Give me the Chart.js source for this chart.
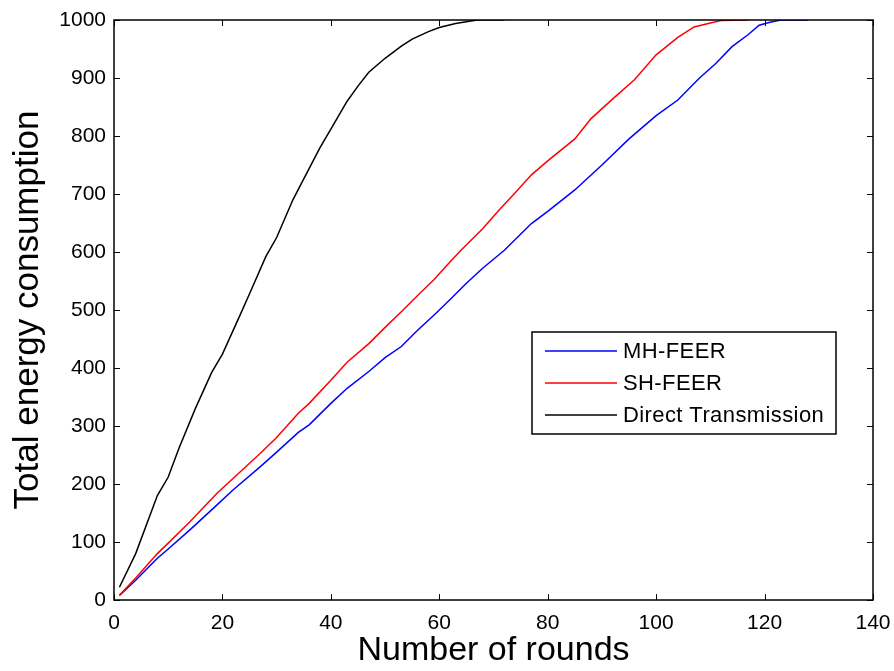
<!DOCTYPE html>
<html>
<head>
<meta charset="utf-8">
<script src="https://cdn.jsdelivr.net/npm/chart.js@4.4.1/dist/chart.umd.min.js"></script>
<style>
  body { margin: 0; background: #fff; }
  #contenedor { width: 894px; height: 671px; position: relative; }
</style>
</head>
<body>
<div id="contenedor"><canvas id="canvasEnergia"></canvas></div>
<script>
// valores (ronda -> energia total consumida)
const roundsMH = [1, 4, 8, 10, 14, 19, 22, 27, 30, 34, 36, 40, 43, 47, 50, 53, 56, 59, 62, 65, 68, 72, 77, 80, 85, 90, 95, 100, 104, 108, 111, 114, 117, 119, 121, 123, 128];
const energyMH = [8, 34, 72, 88, 121, 164, 190, 230, 255, 289, 302, 339, 365, 394, 418, 437, 465, 491, 518, 546, 572, 603, 649, 670, 707, 750, 795, 835, 862, 900, 925, 954, 975, 991, 996, 1000, 1000];

const roundsSH = [1, 4, 8, 10, 14, 19, 22, 27, 30, 34, 36, 40, 43, 47, 50, 53, 56, 59, 62, 64, 68, 71, 74, 77, 80, 85, 88, 92, 96, 100, 104, 107, 110, 112, 117];
const energySH = [8, 38, 80, 98, 135, 184, 210, 253, 280, 322, 339, 379, 410, 442, 470, 497, 525, 552, 583, 603, 640, 672, 702, 733, 757, 795, 830, 864, 897, 940, 970, 988, 995, 999, 1000];

const roundsDT = [1, 4, 8, 10, 12, 15, 18, 20, 23, 25, 28, 30, 33, 35, 38, 40, 43, 45, 47, 50, 53, 55, 58, 60, 63, 65, 67, 72];
const energyDT = [22, 80, 180, 212, 262, 330, 392, 424, 486, 528, 592, 625, 690, 726, 780, 812, 860, 886, 910, 934, 955, 967, 980, 987, 994, 997, 1000, 1000];

const seriesLabels = ['MH-FEER', 'SH-FEER', 'Direct Transmission'];
const seriesColors = ['#0000ff', '#ff0000', '#000000'];

const fuente = "'Liberation Sans', Arial, Helvetica, sans-serif";

function toPoints(xs, ys) {
    return xs.map((r, i) => ({ x: r, y: ys[i] }));
}

// marco cerrado y ticks hacia dentro, estilo MATLAB
const marcoPlugin = {
    id: 'marco',
    afterDatasetsDraw(chart) {
        const { ctx, chartArea: a, scales: { x, y } } = chart;
        const len = 6;
        ctx.save();
        ctx.strokeStyle = '#000';
        ctx.lineWidth = 1;
        ctx.beginPath();
        x.ticks.forEach(t => {
            const px = Math.round(x.getPixelForValue(t.value)) + 0.5;
            ctx.moveTo(px, a.bottom); ctx.lineTo(px, a.bottom - len);
            ctx.moveTo(px, a.top); ctx.lineTo(px, a.top + len);
        });
        y.ticks.forEach(t => {
            const py = Math.round(y.getPixelForValue(t.value)) + 0.5;
            ctx.moveTo(a.left, py); ctx.lineTo(a.left + len, py);
            ctx.moveTo(a.right, py); ctx.lineTo(a.right - len, py);
        });
        ctx.stroke();
        ctx.lineWidth = 1.5;
        ctx.strokeRect(a.left, a.top, a.right - a.left, a.bottom - a.top);
        ctx.restore();
    }
};

// leyenda dentro del area del grafico
const leyendaPlugin = {
    id: 'leyendaInterna',
    afterDraw(chart) {
        const { ctx, chartArea: a } = chart;
        const bx = a.left + 418, by = a.top + 312, bw = 304, bh = 102;
        ctx.save();
        ctx.fillStyle = '#fff';
        ctx.fillRect(bx, by, bw, bh);
        ctx.strokeStyle = '#000';
        ctx.lineWidth = 1.5;
        ctx.strokeRect(bx, by, bw, bh);
        ctx.font = '22px ' + fuente;
        ctx.letterSpacing = '0.4px';
        ctx.textBaseline = 'middle';
        chart.data.datasets.forEach((ds, i) => {
            const ry = by + 19 + i * 32;
            ctx.strokeStyle = ds.borderColor;
            ctx.lineWidth = 1.5;
            ctx.beginPath();
            ctx.moveTo(bx + 13, ry);
            ctx.lineTo(bx + 85, ry);
            ctx.stroke();
            ctx.fillStyle = '#000';
            ctx.fillText(ds.label, bx + 91, ry + 1);
        });
        ctx.restore();
    }
};

const datasets = [
    { label: seriesLabels[0], data: toPoints(roundsMH, energyMH), borderColor: seriesColors[0], order: 2 },
    { label: seriesLabels[1], data: toPoints(roundsSH, energySH), borderColor: seriesColors[1], order: 1 },
    { label: seriesLabels[2], data: toPoints(roundsDT, energyDT), borderColor: seriesColors[2], order: 0 }
].map(d => Object.assign(d, { borderWidth: 1.5, pointRadius: 0, fill: false, tension: 0 }));

new Chart(document.getElementById('canvasEnergia').getContext('2d'), {
    type: 'line',
    data: { datasets: datasets },
    plugins: [marcoPlugin, leyendaPlugin],
    options: {
        responsive: true,
        maintainAspectRatio: false,
        animation: false,
        layout: { padding: { top: 20, right: 21, left: 0, bottom: 0 } },
        plugins: { legend: { display: false }, tooltip: { enabled: false } },
        scales: {
            x: {
                type: 'linear',
                min: 0,
                max: 140,
                grid: { display: false, drawTicks: false },
                border: { display: false },
                ticks: { stepSize: 20, padding: 11, color: '#000', font: { family: fuente, size: 21 }, callback: v => String(v) },
                title: { display: true, text: 'Number of rounds', color: '#000', padding: { top: 0, bottom: 0 }, font: { family: fuente, size: 34 } },
                afterFit: s => { s.height = 71; s.paddingLeft = 0; s.paddingRight = 0; }
            },
            y: {
                type: 'linear',
                min: 0,
                max: 1000,
                grid: { display: false, drawTicks: false },
                border: { display: false },
                ticks: { stepSize: 100, padding: 8, color: '#000', font: { family: fuente, size: 21 }, callback: v => String(v) },
                title: { display: true, text: 'Total energy consumption', color: '#000', padding: { top: 7, bottom: 0 }, font: { family: fuente, size: 35 } },
                afterFit: s => { s.width = 114; s.paddingTop = 0; s.paddingBottom = 0; }
            }
        }
    }
});
</script>
</body>
</html>
